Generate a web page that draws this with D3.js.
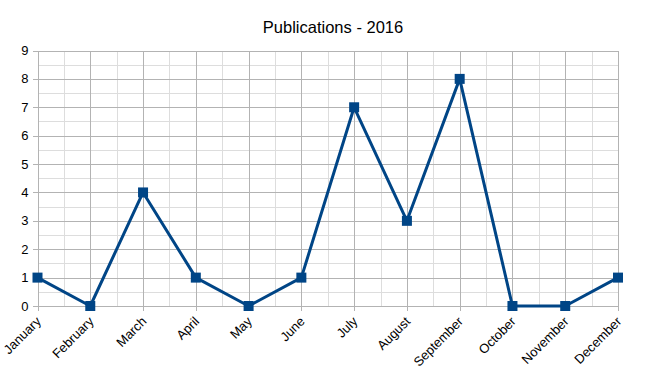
<!DOCTYPE html>
<html>
<head>
<meta charset="utf-8">
<script src="https://cdn.jsdelivr.net/npm/d3@7"></script>
<style>
  body { margin: 0; background: #fff; }
  text { font-family: "Liberation Sans", Arial, sans-serif; }
</style>
</head>
<body>
<svg id="chart"></svg>
<script>
const months = ["January", "February", "March", "April", "May", "June", "July",
  "August", "September", "October", "November", "December"];
const publications = [1, 0, 4, 1, 0, 1, 7, 3, 8, 0, 0, 1];
const yTicks = [0, 1, 2, 3, 4, 5, 6, 7, 8, 9];
const title = "Publications - 2016";

const width = 658, height = 386;
const margin = {top: 50, right: 40, bottom: 80, left: 37.5};

const svg = d3.select("#chart")
  .attr("width", width)
  .attr("height", height);

const x = d3.scalePoint()
  .domain(months)
  .range([margin.left, 618]);

const y = d3.scaleLinear()
  .domain([0, 9])
  .range([306, 50.5]);

// minor grid
const step = x.step();
const grid = svg.append("g").attr("shape-rendering", "crispEdges");
grid.selectAll(".vminor")
  .data(months.slice(0, -1))
  .join("line")
  .attr("x1", d => Math.round(x(d) + step / 2) + 0.5)
  .attr("x2", d => Math.round(x(d) + step / 2) + 0.5)
  .attr("y1", y(9)).attr("y2", y(0))
  .attr("stroke", "#dddddd");
grid.selectAll(".hminor")
  .data(yTicks.slice(0, -1))
  .join("line")
  .attr("x1", x.range()[0]).attr("x2", x.range()[1])
  .attr("y1", d => Math.round(y(d + 0.5)) + 0.5)
  .attr("y2", d => Math.round(y(d + 0.5)) + 0.5)
  .attr("stroke", "#dddddd");

// major grid
grid.selectAll(".vmajor")
  .data(months)
  .join("line")
  .attr("x1", d => Math.round(x(d)) + 0.5)
  .attr("x2", d => Math.round(x(d)) + 0.5)
  .attr("y1", y(9)).attr("y2", y(0) + 5)
  .attr("stroke", "#b3b3b3");
grid.selectAll(".hmajor")
  .data(yTicks)
  .join("line")
  .attr("x1", x.range()[0] - 5).attr("x2", x.range()[1])
  .attr("y1", d => Math.round(y(d)) + 0.5)
  .attr("y2", d => Math.round(y(d)) + 0.5)
  .attr("stroke", "#b3b3b3");

// y labels
svg.append("g").selectAll("text")
  .data(yTicks)
  .join("text")
  .attr("x", x.range()[0] - 9)
  .attr("y", d => y(d))
  .attr("dy", "0.35em")
  .attr("text-anchor", "end")
  .attr("font-size", 13)
  .attr("fill", "#000")
  .text(d => d);

// x labels
svg.append("g").selectAll("text")
  .data(months)
  .join("text")
  .attr("transform", d => "translate(" + (x(d) + 1) + "," + (y(0) + 13) + ") rotate(-45)")
  .attr("text-anchor", "end")
  .attr("dy", "0.35em")
  .attr("font-size", 13)
  .attr("fill", "#000")
  .text(d => d);

// line
const line = d3.line()
  .x((d, i) => x(months[i]))
  .y(d => y(d));

svg.append("path")
  .datum(publications)
  .attr("fill", "none")
  .attr("stroke", "#004586")
  .attr("stroke-width", 3)
  .attr("stroke-linejoin", "round")
  .attr("d", line);

svg.append("g").selectAll("rect")
  .data(publications)
  .join("rect")
  .attr("x", (d, i) => x(months[i]) - 5)
  .attr("y", d => y(d) - 5)
  .attr("width", 10)
  .attr("height", 10)
  .attr("fill", "#004586");

svg.append("text")
  .attr("x", 333)
  .attr("y", 33)
  .attr("text-anchor", "middle")
  .attr("font-size", 16.5)
  .attr("fill", "#000")
  .text(title);
</script>
</body>
</html>
